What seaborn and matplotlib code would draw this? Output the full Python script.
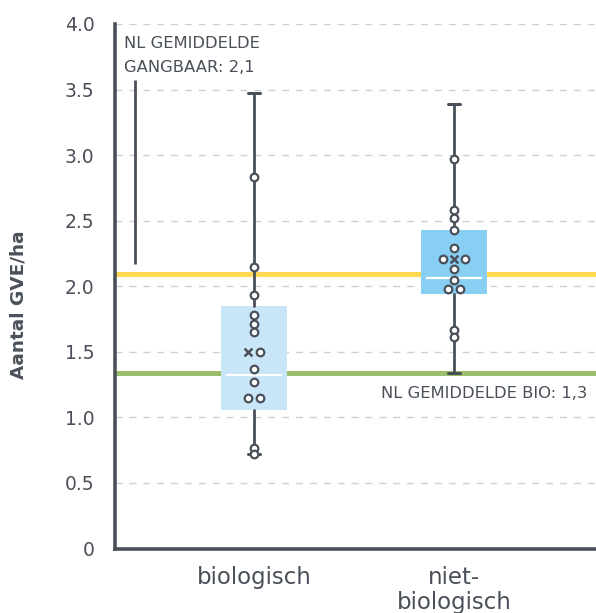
import numpy as np
import pandas as pd
import matplotlib
matplotlib.use("Agg")
import matplotlib.pyplot as plt
import seaborn as sns

# --- data -------------------------------------------------------------
categories = ["biologisch", "niet-\nbiologisch"]

bio_values = [2.83, 2.15, 1.93, 1.78, 1.71, 1.65, 1.50, 1.37, 1.27, 1.15, 1.15, 0.77, 0.72]
conv_values = [2.97, 2.58, 2.52, 2.43, 2.29, 2.21, 2.21, 2.13, 2.05, 1.98, 1.98, 1.67, 1.61]

box_q1 = [1.06, 1.94]
box_median = [1.32, 2.06]
box_q3 = [1.85, 2.43]
whisker_low = [0.72, 1.34]
whisker_high = [3.47, 3.39]
group_mean = [1.50, 2.21]

nl_avg_conventional = 2.09
nl_avg_organic = 1.34

y_ticks = [0, 0.5, 1.0, 1.5, 2.0, 2.5, 3.0, 3.5, 4.0]

# --- style ------------------------------------------------------------
DARK = "#4a5059"
GRID = "#cdd1d5"
BOX_COLORS = ["#c9e6f8", "#88cff3"]
YELLOW = "#ffd952"
GREEN = "#9cbe6c"

sns.set_theme(style="white")
plt.rcParams["font.family"] = ["DejaVu Sans"]
plt.rcParams["text.color"] = DARK


def fmt_nl(v):
    return f"{v:.1f}".replace(".", ",")


def spread_positions(values, center, mean, step):
    """Place equal values side by side; the mean marker joins its group."""
    xs = np.full(len(values), float(center))
    mean_x = float(center)
    vals = np.asarray(values)
    for v in np.unique(vals):
        idx = list(np.where(np.isclose(vals, v))[0])
        items = idx[: len(idx) // 2] + (["mean"] if np.isclose(v, mean) else []) + idx[len(idx) // 2:]
        m = len(items)
        for k, it in enumerate(items):
            off = (k - (m - 1) / 2) * step
            if it == "mean":
                mean_x = center + off
            else:
                xs[it] = center + off
    return xs, mean_x


fig = plt.figure(figsize=(5.96, 6.13), dpi=100)
ax = fig.add_axes([0.193, 0.1052, 0.807, 0.8557])

positions = np.arange(len(categories))
box_width = 0.33

# reference lines behind the boxes
ax.axhline(nl_avg_conventional, color=YELLOW, lw=3.6, zorder=1)
ax.axhline(nl_avg_organic, color=GREEN, lw=3.6, zorder=1)

stats = []
for i in range(len(categories)):
    stats.append(dict(q1=box_q1[i], med=box_median[i], q3=box_q3[i],
                      whislo=whisker_low[i], whishi=whisker_high[i], fliers=[]))
bp = ax.bxp(stats, positions=positions, widths=box_width, patch_artist=True,
            showfliers=False, capwidths=0.06,
            boxprops=dict(linewidth=0),
            whiskerprops=dict(color=DARK, linewidth=2.0),
            capprops=dict(color=DARK, linewidth=2.2),
            medianprops=dict(linewidth=0), zorder=3)
for patch, c in zip(bp["boxes"], BOX_COLORS):
    patch.set_facecolor(c)
    patch.set_edgecolor("none")
    patch.set_zorder(2)

# medians, slightly inset from the box edges
ax.hlines(box_median, positions - box_width * 0.42, positions + box_width * 0.42,
          color="white", lw=1.6, zorder=4)

# individual farms
rows = []
mean_xs = []
for i, vals in enumerate([bio_values, conv_values]):
    xs, mx = spread_positions(vals, positions[i], group_mean[i], 0.056)
    mean_xs.append(mx)
    for x, v in zip(xs, vals):
        rows.append({"x": x, "value": v, "group": categories[i]})
points = pd.DataFrame(rows)

sns.scatterplot(data=points, x="x", y="value", ax=ax, marker="o", s=30,
                facecolor="white", edgecolor=DARK, linewidth=1.6, zorder=5,
                legend=False)
sns.scatterplot(x=mean_xs, y=group_mean, ax=ax, marker="x", s=32,
                color=DARK, linewidth=1.8, zorder=5, legend=False)

# annotations
ax.text(-0.65, 3.817, "NL GEMIDDELDE", fontsize=11.8, ha="left", va="baseline", color=DARK)
ax.text(-0.65, 3.634, f"GANGBAAR: {fmt_nl(nl_avg_conventional)}", fontsize=11.8,
        ha="left", va="baseline", color=DARK)
ax.vlines(-0.595, nl_avg_conventional + 0.08, 3.57, color=DARK, lw=2.0, zorder=3)
ax.text(1.665, 1.145, f"NL GEMIDDELDE BIO: {fmt_nl(nl_avg_organic)}", fontsize=11.8,
        ha="right", va="baseline", color=DARK)

# axes
ax.set_xlim(-0.695, 1.71)
ax.set_ylim(0, 4.0)
ax.set_yticks(y_ticks)
ax.set_yticklabels(["0" if t == 0 else f"{t:.1f}" for t in y_ticks])
ax.set_xticks(positions)
ax.set_xticklabels(categories, linespacing=1.12)
ax.set_xlabel("")
ax.set_ylabel("Aantal GVE/ha", fontsize=13.3, fontweight="bold", color=DARK)
ax.yaxis.set_label_coords(-0.181, 0.464)

for t in y_ticks[1:]:
    ax.axhline(t, color=GRID, lw=1.0, ls=(0, (5, 5)), zorder=0)

for side in ["top", "right"]:
    ax.spines[side].set_visible(False)
for side in ["left", "bottom"]:
    ax.spines[side].set_color(DARK)
    ax.spines[side].set_linewidth(2.6)
ax.tick_params(axis="y", length=5.8, width=2.2, color=DARK, labelsize=13.5,
               labelcolor=DARK, pad=9)
ax.tick_params(axis="x", length=4.5, width=2.2, color=DARK, labelsize=16.5,
               labelcolor=DARK, pad=8)
ax.grid(False)

fig.savefig("out.png", dpi=100)
